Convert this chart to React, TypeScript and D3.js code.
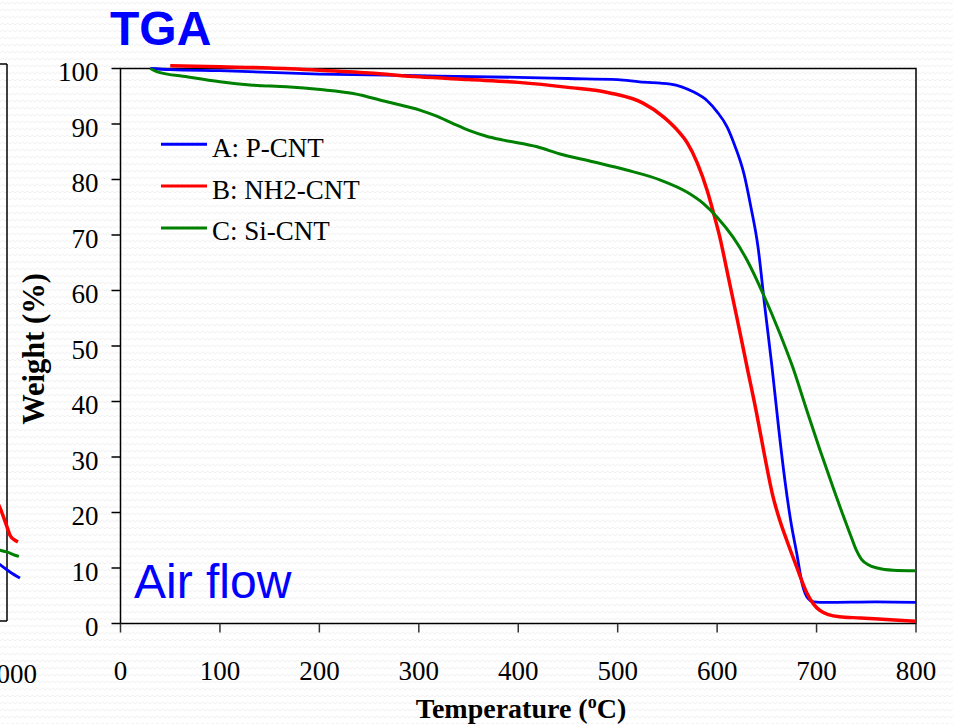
import React from "react";
import * as d3 from "d3";

// ---- Data ----
const seriesNames = ["A: P-CNT", "B: NH2-CNT", "C: Si-CNT"];
const seriesColors = ["#0000ff", "#ff0000", "#008000"];

const tempA = [30, 50, 100, 200, 300, 400, 450, 500, 522, 553, 576, 590, 600, 610, 618, 627, 634, 641, 648, 655, 662, 668, 674, 680, 686, 691, 697, 710, 760, 800];
const weightA = [100, 99.8, 99.6, 99.0, 98.7, 98.4, 98.2, 98.0, 97.6, 97.2, 95.8, 94.2, 92.2, 89.5, 86, 81, 75, 68, 57, 46.5, 35, 26, 18.5, 12.7, 6.8, 4.6, 3.9, 3.8, 3.9, 3.8];

const tempB = [50, 100, 150, 200, 250, 300, 350, 400, 450, 492, 525, 546, 560, 570, 580, 590, 596, 603, 610, 620, 630, 640, 648, 656, 663, 670, 680, 690, 697, 703, 712, 723, 744, 770, 800];
const weightB = [100.5, 100.3, 100.1, 99.7, 99.2, 98.5, 98.0, 97.5, 96.6, 95.6, 93.8, 91.3, 88.9, 86.6, 83, 78, 74.2, 69.4, 63.5, 55, 46.3, 37.6, 30, 23, 18.6, 15, 10.2, 5.6, 3.5, 2.4, 1.6, 1.2, 1.0, 0.7, 0.4];

const tempC = [30, 37, 67, 100, 133, 167, 201, 234, 268, 301, 318, 334, 351, 368, 385, 419, 442, 475, 509, 543, 570, 586, 600, 616, 630, 646, 663, 676, 690, 703, 716, 726, 734, 740, 745, 752, 761, 777, 800];
const weightC = [100, 99.4, 98.5, 97.6, 97.0, 96.7, 96.2, 95.5, 94.0, 92.5, 91.4, 90.1, 88.8, 87.8, 87.1, 85.9, 84.6, 83.2, 81.7, 79.9, 77.7, 75.7, 73.2, 69.6, 65.5, 59.5, 52.3, 46.2, 38.5, 31.5, 24.8, 19.8, 16, 13.2, 11.6, 10.6, 10, 9.6, 9.5];

// neighbouring (cropped) chart on the left edge
const prevTempA = [985, 993, 1003, 1013];
const prevWeightA = [11.2, 10.1, 8.8, 7.7];
const prevTempB = [985, 993, 1000, 1003, 1008, 1011];
const prevWeightB = [23, 20.3, 16.9, 15.4, 14.5, 14.2];
const prevTempC = [985, 993, 1000, 1008, 1012];
const prevWeightC = [13, 12.7, 12.4, 11.8, 11.6];

const xTicks = [0, 100, 200, 300, 400, 500, 600, 700, 800];
const yTicks = [0, 10, 20, 30, 40, 50, 60, 70, 80, 90, 100];
const prevXTickLabel = "1000";

const serif = "'Liberation Serif', 'Times New Roman', serif";
const sans = "'Liberation Sans', Arial, sans-serif";

export default function App() {
  const W = 953;
  const H = 724;
  const x = d3.scaleLinear().domain([0, 800]).range([120.5, 916]);
  const y = d3.scaleLinear().domain([0, 100]).range([623.5, 68.5]);

  const px = d3.scaleLinear().domain([900, 1000]).range([7 - 99.44, 7]);
  const py = d3.scaleLinear().domain([0, 100]).range([621, 64]);

  const mk = (xs: any, ys: any) =>
    d3
      .line<[number, number]>()
      .x((d) => xs(d[0]))
      .y((d) => ys(d[1]))
      .curve(d3.curveMonotoneX);

  const line = mk(x, y);
  const pline = mk(px, py);
  const zip = (a: number[], b: number[]) => a.map((v, i) => [v, b[i]] as [number, number]);

  const mainSeries = [zip(tempA, weightA), zip(tempB, weightB), zip(tempC, weightC)];
  const prevSeries = [zip(prevTempA, prevWeightA), zip(prevTempB, prevWeightB), zip(prevTempC, prevWeightC)];
  const widths = [2.8, 3.5, 3];

  const [x0, x1] = x.range();
  const [y0, y1] = y.range();

  return (
    <svg
      width={W}
      height={H}
      style={{ position: "absolute", left: 0, top: 0, display: "block" }}
      xmlns="http://www.w3.org/2000/svg"
    >
      <defs>
        <pattern id="wave" width={10} height={7} patternUnits="userSpaceOnUse">
          <path d="M0,4 L2.5,2 L5,4 L7.5,2 L10,4" fill="none" stroke="#f0f0f0" strokeWidth={1} />
        </pattern>
      </defs>
      <rect x={0} y={0} width={W} height={H} fill="#ffffff" />
      <rect x={0} y={0} width={W} height={H} fill="url(#wave)" />

      {/* left neighbouring chart fragment */}
      <line x1={0} x2={px(1000)} y1={py(100)} y2={py(100)} stroke="#000" strokeWidth={1.5} />
      <line x1={px(1000)} x2={px(1000)} y1={py(100)} y2={py(0)} stroke="#000" strokeWidth={1.5} />
      <line x1={0} x2={px(1000)} y1={py(0)} y2={py(0)} stroke="#000" strokeWidth={1.5} />
      <text x={px(1000) + 3} y={683} textAnchor="middle" fontFamily={serif} fontSize={27} fill="#000">
        {prevXTickLabel}
      </text>
      {prevSeries.map((s, i) => (
        <path key={"p" + i} d={pline(s) || ""} fill="none" stroke={seriesColors[i]} strokeWidth={widths[i]} />
      ))}

      {/* title */}
      <text x={110} y={45} fontFamily={sans} fontWeight="bold" fontSize={48} fill="#0000ff">
        TGA
      </text>

      {/* frame */}
      <rect x={x0} y={y1} width={x1 - x0} height={y0 - y1} fill="none" stroke="#000" strokeWidth={1.5} />

      {/* y axis ticks */}
      {yTicks.map((t) => (
        <g key={"y" + t}>
          <line x1={x0 - 9} x2={x0} y1={y(t)} y2={y(t)} stroke="#000" strokeWidth={1.5} />
          <text x={98.5} y={y(t) + 12.5} textAnchor="end" fontFamily={serif} fontSize={27} fill="#000">
            {t}
          </text>
        </g>
      ))}

      {/* x axis ticks */}
      {xTicks.map((t) => (
        <g key={"x" + t}>
          <line x1={x(t)} x2={x(t)} y1={y0} y2={y0 + 9} stroke="#333" strokeWidth={1.5} />
          <text x={x(t)} y={680} textAnchor="middle" fontFamily={serif} fontSize={27} fill="#000">
            {t}
          </text>
        </g>
      ))}

      {/* axis titles */}
      <text
        transform={`translate(44, 349) rotate(-90)`}
        textAnchor="middle"
        fontFamily={serif}
        fontWeight="bold"
        fontSize={30.5}
        fill="#000"
      >
        Weight (%)
      </text>
      <text x={521} y={718} textAnchor="middle" fontFamily={serif} fontWeight="bold" fontSize={28} fill="#000">
        Temperature (
        <tspan dy={-10} fontSize={18}>
          o
        </tspan>
        <tspan dy={10}>C)</tspan>
      </text>

      {/* series */}
      {mainSeries.map((s, i) => (
        <path
          key={"s" + i}
          d={line(s) || ""}
          fill="none"
          stroke={seriesColors[i]}
          strokeWidth={widths[i]}
          strokeLinejoin="round"
        />
      ))}

      {/* legend */}
      {seriesNames.map((n, i) => {
        const ly = 144.3 + i * 41.8;
        return (
          <g key={"l" + i}>
            <line x1={161} x2={207} y1={ly} y2={ly} stroke={seriesColors[i]} strokeWidth={3} />
            <text x={212} y={ly + 12.5} fontFamily={serif} fontSize={27} fill="#000">
              {n}
            </text>
          </g>
        );
      })}

      {/* annotation */}
      <text x={134} y={598} fontFamily={sans} fontSize={48} fill="#0000ff">
        Air flow
      </text>
    </svg>
  );
}
